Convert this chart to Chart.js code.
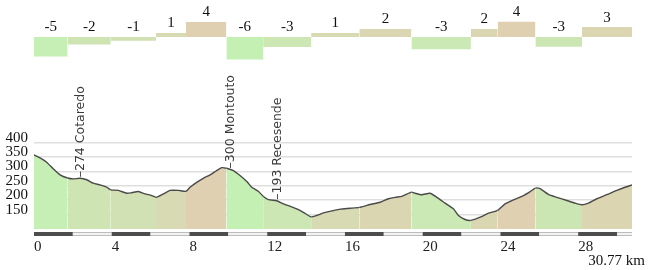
<!DOCTYPE html>
<html>
<head>
<meta charset="utf-8">
<script src="https://cdn.jsdelivr.net/npm/chart.js@4.4.1/dist/chart.umd.min.js"></script>
<style>
body { margin: 0; background: #fff; }
#wrap { width: 650px; height: 270px; }
</style>
</head>
<body>
<div id="wrap"><canvas id="profile" width="650" height="270"></canvas></div>
<script>
// elevation profile (km, m)
const distKm = [0, 0.31, 0.65, 0.99, 1.34, 1.73, 2.02, 2.37, 2.71, 3.05, 3.4, 3.74, 3.95, 4.34, 4.77, 5.03, 5.37, 5.71, 6.06, 6.28,
	6.66, 7.0, 7.43, 7.82, 8.03, 8.37, 8.71, 9.06, 9.4, 9.66, 9.9, 10.26, 10.6, 10.95, 11.2, 11.54, 11.79, 12.06, 12.49, 12.75,
	13.09, 13.52, 13.86, 14.26, 14.55, 14.89, 15.4, 15.75, 16.26, 16.74, 17.29, 17.81, 18.24, 18.58, 18.93, 19.42, 19.61, 19.95,
	20.38, 20.73, 21.15, 21.58, 21.84, 22.18, 22.48, 22.96, 23.38, 23.86, 24.24, 24.67, 25.18, 25.53, 25.8, 26.04, 26.47, 26.9,
	27.42, 27.84, 28.2, 28.53, 28.96, 29.47, 29.99, 30.41, 30.77];
const elevM = [357, 347, 332, 309, 288, 277, 274, 276, 271, 259, 253, 245, 236, 234, 224, 226, 230, 222, 216, 210,
	222, 234, 234, 231, 245, 262, 276, 288, 303, 313, 311, 303, 286, 265, 245, 231, 214, 202, 198, 190,
	181, 170, 158, 142, 147, 156, 164, 169, 172, 175, 185, 193, 205, 210, 213, 228, 224, 219,
	224, 210, 190, 170, 147, 133, 130, 141, 155, 165, 187, 201, 216, 230, 242, 240, 220, 210,
	199, 190, 184, 190, 205, 219, 234, 245, 253];
const totalKm = 30.77;

// gradient sections (start km, %)
const sectionStart = [0, 1.73, 3.95, 6.28, 7.82, 9.9, 11.79, 14.26, 16.74, 19.42, 22.48, 23.86, 25.8, 28.2];
const sectionGrade = [-5.2, -2, -1, 1.05, 3.95, -6, -2.7, 1.05, 2.1, -3.3, 2.1, 4, -2.6, 2.6];

// places
const placeKm = [2.37, 10.09, 12.49];
const placeElev = ['274', '300', '193'];
const placeName = ['Cotaredo', 'Montouto', 'Recesende'];

const xTicks = [0, 4, 8, 12, 16, 20, 24, 28];
const yTicks = [150, 200, 250, 300, 350, 400];

function gradColor(g)
{
	let t = Math.min(1, Math.max(0, (g + 5.5) / 9.5));
	let a = [196, 240, 180], b = [223, 208, 178];
	return 'rgb(' + a.map((v, i) => Math.round(v + (b[i] - v) * t)).join(',') + ')';
}

function sectionAt(km)
{
	let idx = 0;
	sectionStart.forEach((s, i) => { if (km >= s) idx = i; });
	return idx;
}

function elevAt(km)
{
	for (let i = 1; i < distKm.length; i++)
	{
		if (km <= distKm[i])
		{
			let f = (km - distKm[i - 1]) / (distKm[i] - distKm[i - 1]);
			return elevM[i - 1] + (elevM[i] - elevM[i - 1]) * f;
		}
	}
	return elevM[elevM.length - 1];
}

const profileData = distKm.map((d, i) => ({x: d, y: elevM[i]}));
const gradeData = sectionStart.map((s, i) => ({x: s, y: sectionGrade[i]}));
gradeData.push({x: totalKm, y: sectionGrade[sectionGrade.length - 1]});

const profileExtras = {
	id: 'profileExtras',
	beforeDatasetsDraw(chart) {
		let ctx = chart.ctx, xs = chart.scales.x, area = chart.chartArea;
		let top = area.bottom + 3;
		ctx.save();
		for (let k = 0; k < totalKm; k += 2)
		{
			let x0 = xs.getPixelForValue(k), x1 = xs.getPixelForValue(Math.min(k + 2, totalKm));
			if ((k / 2) % 2 === 0)
			{
				ctx.fillStyle = '#4d4d4d';
				ctx.fillRect(x0, top, x1 - x0, 4);
			}
			else
			{
				ctx.fillStyle = '#bdbdbd';
				ctx.fillRect(x0, top, x1 - x0, 4);
				ctx.fillStyle = '#f2f2f2';
				ctx.fillRect(x0, top + 1, x1 - x0, 2);
			}
		}
		ctx.restore();
	},
	afterDatasetsDraw(chart) {
		let ctx = chart.ctx, xs = chart.scales.x, ys = chart.scales.y, gs = chart.scales.y2;
		ctx.save();
		// grade labels
		ctx.font = '15px "Liberation Serif"';
		ctx.fillStyle = '#111';
		ctx.textAlign = 'center';
		ctx.textBaseline = 'alphabetic';
		sectionStart.forEach((s, i) => {
			let e = i + 1 < sectionStart.length ? sectionStart[i + 1] : totalKm;
			let x = xs.getPixelForValue((s + e) / 2);
			let y = Math.min(gs.getPixelForValue(sectionGrade[i]), gs.getPixelForValue(0)) - 5.5;
			ctx.fillText(String(Math.round(sectionGrade[i])), x, y);
		});
		// place names
		ctx.font = '12.5px "DejaVu Sans"';
		ctx.fillStyle = '#3a3a3a';
		ctx.textAlign = 'left';
		ctx.textBaseline = 'middle';
		placeKm.forEach((k, i) => {
			ctx.save();
			ctx.translate(xs.getPixelForValue(k) + 1, ys.getPixelForValue(elevAt(k)) - 1);
			ctx.rotate(-Math.PI / 2);
			ctx.fillText('\u2013' + placeElev[i] + ' ' + placeName[i], 0, 0);
			ctx.restore();
		});
		// total distance
		ctx.font = '15px "Liberation Serif"';
		ctx.fillStyle = '#111';
		ctx.textAlign = 'right';
		ctx.textBaseline = 'alphabetic';
		ctx.fillText(totalKm + ' km', 645, 265);
		ctx.restore();
	}
};

new Chart(document.getElementById('profile').getContext('2d'), {
	type: 'line',
	data: {
		datasets: [
			{
				data: gradeData,
				yAxisID: 'y2',
				stepped: 'before',
				fill: 'origin',
				borderWidth: 0,
				borderColor: 'rgba(0,0,0,0)',
				pointRadius: 0,
				segment: {
					backgroundColor: c => gradColor(sectionGrade[c.p0DataIndex]),
				},
			},
			{
				data: profileData,
				yAxisID: 'y',
				fill: 'start',
				borderColor: '#4a4a4a',
				borderWidth: 1.4,
				tension: 0.2,
				pointRadius: 0,
				segment: {
					backgroundColor: c => gradColor(sectionGrade[sectionAt((c.p0.parsed.x + c.p1.parsed.x) / 2)]),
				},
			},
		],
	},
	options: {
		responsive: false,
		animation: false,
		layout: {padding: {top: 10, left: 0, right: 18, bottom: 0}},
		plugins: {legend: {display: false}, tooltip: {enabled: false}},
		scales: {
			x: {
				type: 'linear',
				min: 0,
				max: totalKm,
				grid: {display: false},
				border: {display: false},
				afterBuildTicks: s => { s.ticks = xTicks.map(v => ({value: v})); },
				afterFit: s => { s.height = 41; },
				ticks: {
					align: 'start',
					maxRotation: 0,
					padding: 1,
					color: '#222',
					font: {family: 'Liberation Serif', size: 15},
				},
			},
			y: {
				min: 100,
				max: 843,
				z: 1,
				afterBuildTicks: s => { s.ticks = yTicks.map(v => ({value: v})); },
				afterFit: s => { s.width = 34; },
				grid: {color: 'rgba(0,0,0,0.13)', lineWidth: 1.5, drawTicks: false},
				border: {display: false},
				ticks: {
					padding: 6,
					labelOffset: -5,
					color: '#111',
					font: {family: 'Liberation Serif', size: 15},
				},
			},
			y2: {
				display: false,
				min: -50.8,
				max: 5.79,
			},
		},
	},
	plugins: [profileExtras],
});
</script>
</body>
</html>
